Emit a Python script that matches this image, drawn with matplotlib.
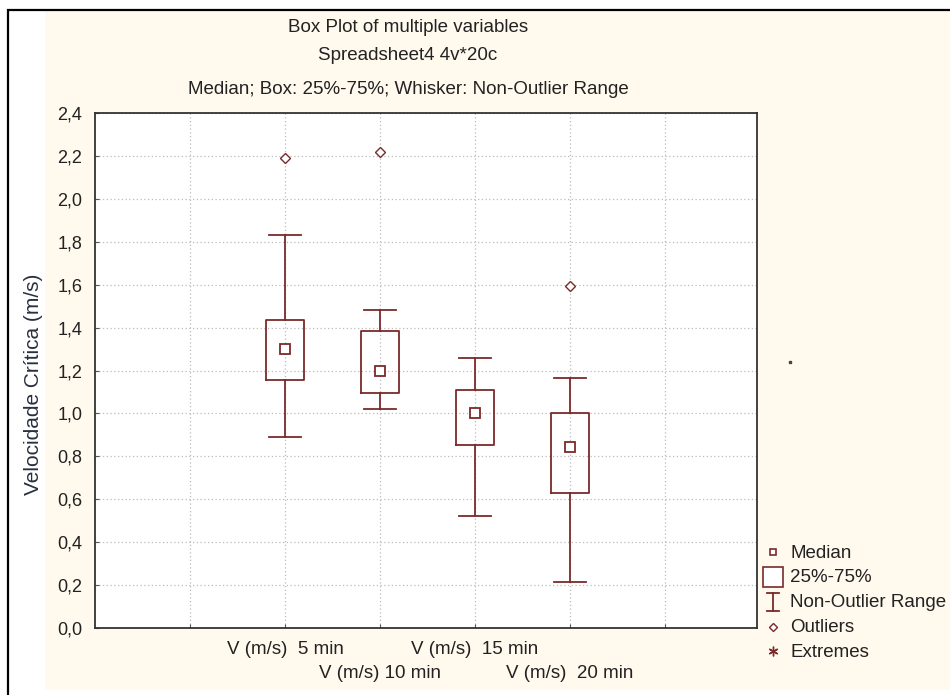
import numpy as np
import matplotlib.pyplot as plt
from matplotlib.patches import Rectangle
from matplotlib.lines import Line2D

plt.rcParams['font.family'] = ['Liberation Sans', 'DejaVu Sans']

# data
labels = ['V (m/s)  5 min', 'V (m/s) 10 min', 'V (m/s)  15 min', 'V (m/s)  20 min']
medians = [1.30, 1.20, 1.00, 0.845]
q1 = [1.155, 1.095, 0.855, 0.63]
q3 = [1.435, 1.385, 1.11, 1.00]
wlo = [0.89, 1.02, 0.52, 0.215]
whi = [1.83, 1.48, 1.26, 1.165]
outliers = [[2.19], [2.22], [], [1.595]]

col = '#7a2a2a'
cream = '#fff9ee'
tcol = '#222222'

fig = plt.figure(figsize=(9.5, 6.95), dpi=100)
fig.patch.set_facecolor('white')
# cream panel and outer frame
fig.patches.append(Rectangle((45/950, 5/695), 1 - 45/950, 1 - 15/695, transform=fig.transFigure,
                             facecolor=cream, edgecolor='none', zorder=-2))
fig.patches.append(Rectangle((8/950, -0.01), 1.0, 1 - 10/695 + 0.01, transform=fig.transFigure,
                             facecolor='none', edgecolor='black', linewidth=1.6, zorder=-1))

ax = fig.add_axes([95/950, 1 - 628/695, 662/950, 515/695])
ax.set_facecolor('white')

pos = [2, 3, 4, 5]
stats = []
for i in range(4):
    stats.append(dict(med=medians[i], q1=q1[i], q3=q3[i], whislo=wlo[i], whishi=whi[i],
                      fliers=outliers[i], label=labels[i]))

ax.bxp(stats, positions=pos, widths=0.4, showfliers=True,
       boxprops=dict(color=col, linewidth=1.3),
       whiskerprops=dict(color=col, linewidth=1.3),
       capprops=dict(color=col, linewidth=1.3),
       capwidths=0.34,
       medianprops=dict(visible=False),
       flierprops=dict(marker='D', markersize=5.5, markerfacecolor='white',
                       markeredgecolor=col, markeredgewidth=1.0))
ax.plot(pos, medians, 's', markersize=7, markerfacecolor='white',
        markeredgecolor=col, markeredgewidth=1.3, linestyle='none', zorder=5)

ax.set_xlim(0, 6.97)
ax.set_ylim(0, 2.4)
ax.set_xticks([1, 2, 3, 4, 5, 6])
ax.set_xticklabels([])
yt = np.arange(0, 2.41, 0.2)
ax.set_yticks(yt)
ax.set_yticklabels([('%.1f' % v).replace('.', ',') for v in yt], fontsize=13)
ax.tick_params(axis='both', direction='in', length=3, colors='#555555', labelcolor=tcol)
ax.tick_params(axis='y', pad=9)
ax.grid(True, linestyle=(0, (1, 2)), color='#bbbbbb', linewidth=0.9)
ax.set_axisbelow(True)
for s in ax.spines.values():
    s.set_color('#333333')
    s.set_linewidth(1.3)

for i, (p, lab) in enumerate(zip(pos, labels)):
    yy = -0.1025 if i % 2 == 0 else -0.21
    ax.text(p, yy, lab, ha='center', va='center', fontsize=13.5, color=tcol)

ax.set_ylabel('Velocidade Crítica (m/s)', fontsize=15, color='#2a2f40')
ax.yaxis.set_label_coords(-0.079, 0.474)

fig.text(408/950, 1 - 27/695, 'Box Plot of multiple variables', ha='center', va='center', fontsize=13.5, color=tcol)
fig.text(408/950, 1 - 56/695, 'Spreadsheet4 4v*20c', ha='center', va='center', fontsize=13.5, color=tcol)
fig.text(408/950, 1 - 89/695, 'Median; Box: 25%-75%; Whisker: Non-Outlier Range', ha='center', va='center',
         fontsize=13.5, color=tcol)

# legend drawn by hand (statistica style)
leg_x = 773 / 950
txt_x = 790 / 950
leg_names = ['Median', '25%-75%', 'Non-Outlier Range', 'Outliers', 'Extremes']
for k, name in enumerate(leg_names):
    yy = 1 - (553 + k * 24.8) / 695
    fig.text(txt_x, yy, name, ha='left', va='center', fontsize=13.5, color=tcol)
fig.lines.append(Line2D([leg_x], [1 - 552/695], marker='s', markersize=5, markerfacecolor='white',
                        markeredgecolor=col, markeredgewidth=1.2, transform=fig.transFigure))
fig.lines.append(Line2D([leg_x], [1 - 577/695], marker='s', markersize=15, markerfacecolor='white',
                        markeredgecolor=col, markeredgewidth=1.2, transform=fig.transFigure))
fig.lines.append(Line2D([leg_x, leg_x], [1 - 593/695, 1 - 611/695], color=col, linewidth=1.3,
                        transform=fig.transFigure))
fig.lines.append(Line2D([leg_x - 6/950, leg_x + 6/950], [1 - 593/695] * 2, color=col, linewidth=1.3,
                        transform=fig.transFigure))
fig.lines.append(Line2D([leg_x - 6/950, leg_x + 6/950], [1 - 611/695] * 2, color=col, linewidth=1.3,
                        transform=fig.transFigure))
fig.lines.append(Line2D([leg_x], [1 - 627/695], marker='D', markersize=4, markerfacecolor='white',
                        markeredgecolor=col, markeredgewidth=1.0, transform=fig.transFigure))
fig.lines.append(Line2D([leg_x], [1 - 651/695], marker=(6, 2, 0), markersize=7, color=col,
                        markeredgewidth=1.0, transform=fig.transFigure))
fig.lines.append(Line2D([790/950], [1 - 362/695], marker='s', markersize=1.5, color='#444444',
                        transform=fig.transFigure))

fig.savefig('out.png', dpi=100, facecolor=fig.get_facecolor())
